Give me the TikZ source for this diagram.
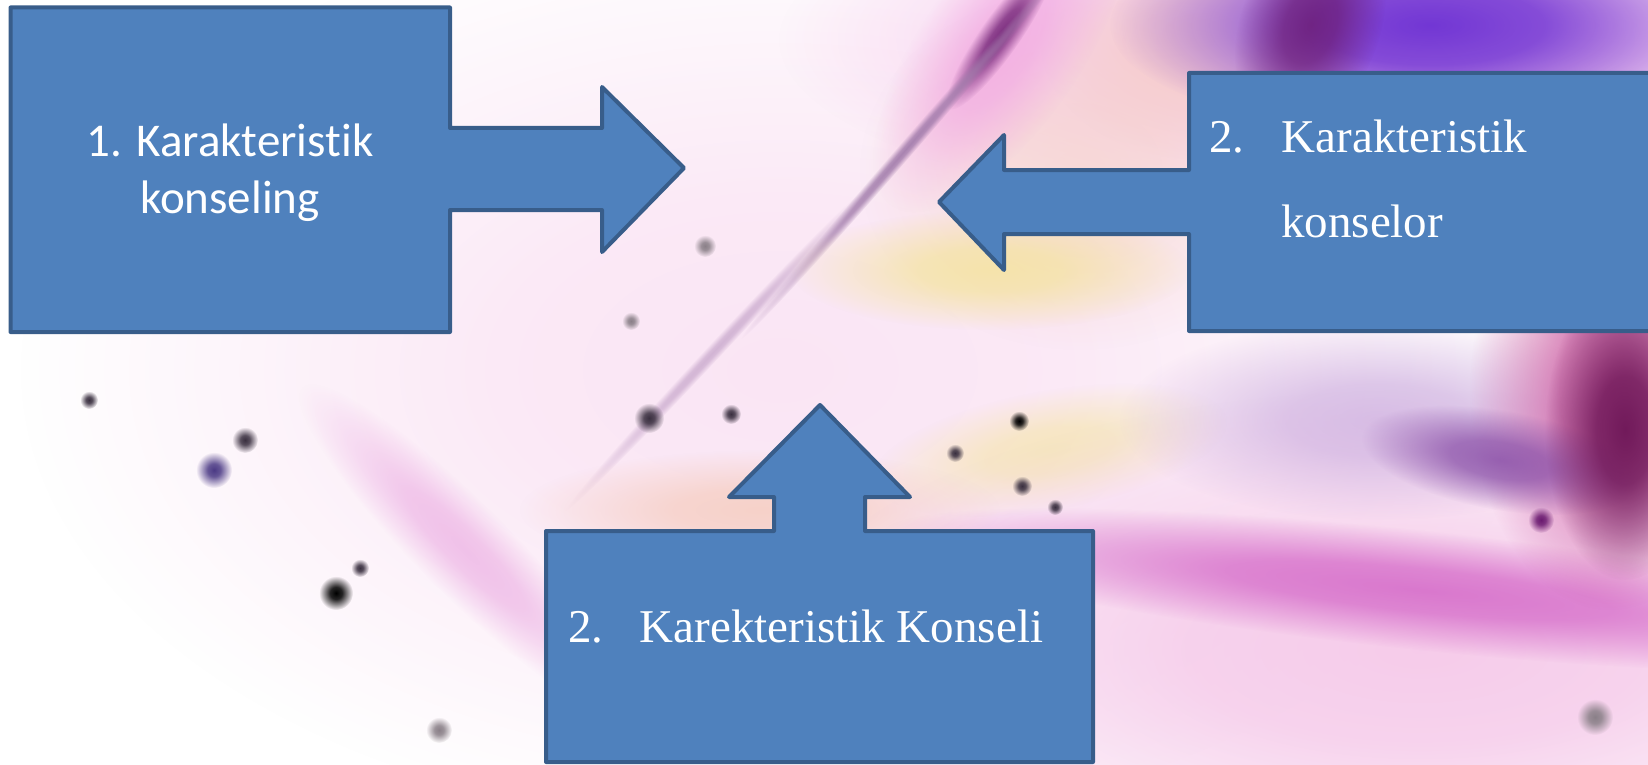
\documentclass[tikz,border=0pt]{standalone}
\usepackage{fontspec}
\setmainfont{Liberation Serif}
\newfontfamily\calibri[Ligatures=NoCommon]{Carlito}
\usetikzlibrary{positioning}
\usetikzlibrary{fadings}

\definecolor{boxblue}{HTML}{4F81BD}
\definecolor{boxedge}{HTML}{385D8A}
\definecolor{violet}{HTML}{6B2FD3}
\definecolor{plum}{HTML}{6A1A70}
\definecolor{pinkhi}{HTML}{F2A8E2}
\definecolor{pinkwash}{HTML}{F5C6E8}
\definecolor{peach}{HTML}{F6CFC4}
\definecolor{yellowl}{HTML}{F4E49C}
\definecolor{magenta2}{HTML}{D262C6}
\definecolor{lilac}{HTML}{C8A6DC}
\definecolor{wine}{HTML}{6C1556}
\definecolor{mauve}{HTML}{8A50A8}
\definecolor{rose}{HTML}{E9A2DF}
\definecolor{rosedark}{HTML}{C84E9A}
\definecolor{stem}{HTML}{A07AAA}
\definecolor{stemfaint}{HTML}{C8A8CC}
\definecolor{speck}{HTML}{3A3040}
\definecolor{speckblue}{HTML}{4B3A85}
\definecolor{speckgrey}{HTML}{8A8088}

% soft edged blob: opaque core, gone at half the radius
\pgfdeclareradialshading{blobshade}{\pgfpointorigin}{color(0bp)=(white); color(9bp)=(white!85!black); color(25bp)=(black); color(50bp)=(black)}
\tikzfading[name=blobfade, shading=blobshade]

\begin{document}
\begin{tikzpicture}[x=1pt, y=-1pt,
    callout/.style={fill=boxblue, draw=boxedge, line width=4pt, line join=round},
    serif/.style={text=white, inner sep=0pt, anchor=base west, font=\fontsize{47}{56}\selectfont},
    sans/.style={text=white, inner sep=0pt, anchor=base, font=\calibri\fontsize{47}{56}\selectfont},
    blob/.style={path fading=blobfade}]
    \useasboundingbox (0,0) rectangle (1648,765);
    \clip (0,0) rectangle (1648,765);
    \fill[white] (0,0) rectangle (1648,765);

    % blurred flower backdrop
    \foreach \cx/\cy/\rx/\ry/\a/\c/\o in {
        780/370/760/460/0/pinkwash/0.45,
        1380/40/600/180/0/pinkhi/0.7,
        1200/40/160/120/0/peach/0.7,
        1080/170/220/180/0/peach/0.6,
        1430/25/320/110/0/violet/0.95,
        1310/25/70/110/-20/plum/0.8,
        1000/50/190/80/55/pinkhi/0.8,
        1000/35/90/20/55/plum/0.85,
        905/150/250/8/49/stem/0.9,
        715/350/220/8/47/stemfaint/0.8,
        990/270/200/60/0/yellowl/0.8,
        1050/450/180/60/10/yellowl/0.6,
        760/510/240/60/0/peach/0.9,
        1420/650/640/260/0/pinkwash/0.9,
        1420/590/540/60/-6/magenta2/0.8,
        1380/420/260/100/0/lilac/0.7,
        1610/390/140/220/0/rosedark/0.8,
        1500/460/140/50/-10/mauve/0.85,
        1625/430/80/150/0/wine/0.95,
        465/550/230/46/-45/rose/0.6}
    {
        \fill[blob, \c, opacity=\o, transform canvas={shift={(\cx,\cy)}, rotate=\a}]
            (0,0) ellipse [x radius=\rx, y radius=\ry];
    }
    % specks
    \foreach \cx/\cy/\r/\c in {214/470/18/speckblue, 245/440/13/speck, 336/593/17/black,
        360/568/9/speck, 89/400/9/speck, 439/730/13/speckgrey, 649/418/15/speck,
        731/414/10/speck, 1019/421/10/black, 955/453/9/speck, 1022/486/10/speck,
        1055/507/8/speck, 1541/520/13/plum, 1595/717/18/speckgrey, 631/321/9/speckgrey,
        705/246/11/speckgrey}
    {
        \fill[blob, \c] (\cx,\cy) circle [radius=\r];
    }

    % callouts
    \draw[callout] (10.5,7.5) -- (450,7.5) -- (450,128) -- (602,128) -- (602,87) -- (684,168)
        -- (602,252) -- (602,210) -- (450,210) -- (450,332) -- (10.5,332) -- cycle;
    \draw[callout] (1189,73) -- (1660,73) -- (1660,331) -- (1189,331) -- (1189,234) -- (1004,234)
        -- (1004,270) -- (939,202) -- (1004,135) -- (1004,170) -- (1189,170) -- cycle;
    \draw[callout] (546,531) -- (774,531) -- (774,497) -- (729,497) -- (820,405) -- (910,497)
        -- (865,497) -- (865,531) -- (1093,531) -- (1093,762) -- (546,762) -- cycle;

    \node[sans] (kling1) at (230,157) {1. Karakteristik};
    \node[sans] (kling2) at (230,213) {konseling};

    \node[serif] (num2) at (1209,152) {2.};
    \node[serif, base right=37pt of num2] (klor1) {Karakteristik};
    \node[serif] (klor2) at (1281,237) {konselor};

    \node[serif] (num3) at (568,642) {2.};
    \node[serif, base right=36pt of num3] (kseli) {Karekteristik Konseli};
\end{tikzpicture}
\end{document}
